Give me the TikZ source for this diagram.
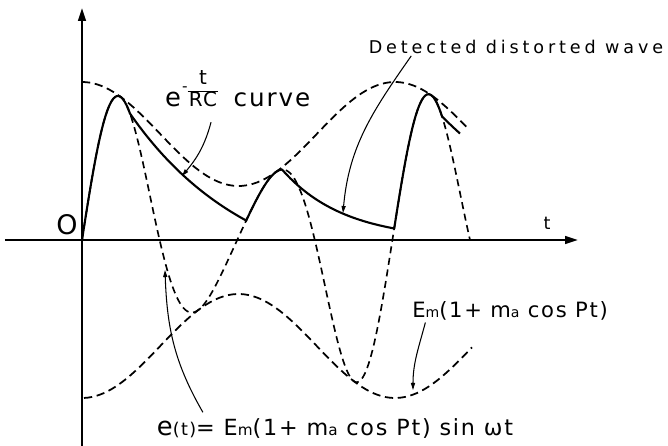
\documentclass[tikz,border=0pt]{standalone}
\usepackage{fontspec}
\setsansfont{DejaVu Sans}[LetterSpace=8]
\newfontfamily\widelettering{DejaVu Sans}[LetterSpace=22]
\usetikzlibrary{arrows.meta}
\newcommand{\fs}[2]{{\fontsize{#1}{#1}\selectfont #2}}
\tikzset{
  every picture/.style={font=\sffamily, line width=1.6pt},
  axis/.style={-{Triangle[length=11pt, width=6.5pt]}, line width=1.8pt},
  envline/.style={dash pattern=on 7pt off 4pt, line width=1.5pt},
  carrier/.style={dash pattern=on 6pt off 4pt, line width=1.4pt},
  detected/.style={line width=1.8pt, line join=round},
  pointer/.style={-{Triangle[length=6pt, width=3.5pt]}, line width=0.9pt},
  lbl/.style={inner sep=1pt},
}
\begin{document}
\begin{tikzpicture}[x=0.03cm, y=0.03cm,
  declare function={env(\t)=106+52*cos(\t/313*360); carr(\t)=env(\t)*sin(\t/77.6*180);}]
  \useasboundingbox (-82,-206) rectangle (586,240);
  % axes
  \draw[axis] (-77,0) -- (496,0);
  \draw[axis] (0,-206) -- (0,232);
  % envelope and modulated carrier
  \draw[envline] plot[domain=0:386, samples=100] (\x,{env(\x)});
  \draw[envline] plot[domain=2:390, samples=100] (\x,{-env(\x)});
  \draw[carrier] plot[domain=0:388, samples=200] (\x,{carr(\x)});
  % detector output
  \draw[detected] plot[domain=0:48, samples=30] (\x,{carr(\x)})
    -- plot[domain=48:164, samples=40] (\x,{172.4*exp(-(\x-48)/120)-46})
    -- plot[domain=164:200, samples=20] (\x,{carr(\x)})
    -- plot[domain=200:312.2, samples=40] (\x,{70.5*exp(-(\x-200)/62)})
    -- plot[domain=312.2:360, samples=30] (\x,{carr(\x)})
    -- plot[domain=360:378, samples=8] (\x,{123.7*exp(-(\x-360)/120)});
  % labels
  \node[lbl, font=\sffamily\fontsize{23}{23}\selectfont] (olbl) at (-15,15) {O};
  \node[lbl, font=\sffamily\fontsize{15}{15}\selectfont] (tlbl) at (465,17) {t};
  \node[lbl, font=\widelettering\fontsize{15}{15}\selectfont] (detlbl) at (434,193) {Detected\ distorted\ wave};
  \node[lbl, anchor=base west] (rclbl) at (81,133)
    {\fs{22}{e}\hspace{1pt}\raisebox{13pt}{\fs{13}{-}}\fs{17}{\setlength{\arrayrulewidth}{1.2pt}%
     \begin{tabular}[b]{@{\hspace{1pt}}c@{\hspace{1pt}}}t\\\hline RC\end{tabular}}\hspace{13pt}\fs{21}{curve}};
  \node[lbl, font=\sffamily\fontsize{18}{18}\selectfont] (emlbl) at (428,-71)
    {E\fs{12}{m}(1+ m\fs{12}{a} cos Pt)};
  \node[lbl, font=\sffamily\fontsize{19}{19}\selectfont] (etlbl) at (253,-189)
    {\fs{22}{e}\fs{15}{(t)}= E\fs{13}{m}(1+ m\fs{13}{a} cos Pt) sin ωt};
  % pointers
  \coordinate (rctip) at (100,64);
  \coordinate (dettip) at (261,27);
  \coordinate (ettip) at (83,-30);
  \coordinate (emtip) at (331,-150);
  \draw[pointer] ([xshift=41pt, yshift=-13pt]rclbl.base west) to[out=-105, in=50] (rctip);
  \draw[pointer] ([xshift=38pt]detlbl.south west) to[out=-125, in=85] (dettip);
  \draw[pointer] ([xshift=41pt, yshift=4pt]etlbl.north west) to[out=120, in=-88] (ettip);
  \draw[pointer] ([xshift=13pt]emlbl.south west) to[out=-105, in=90] (emtip);
\end{tikzpicture}
\end{document}
